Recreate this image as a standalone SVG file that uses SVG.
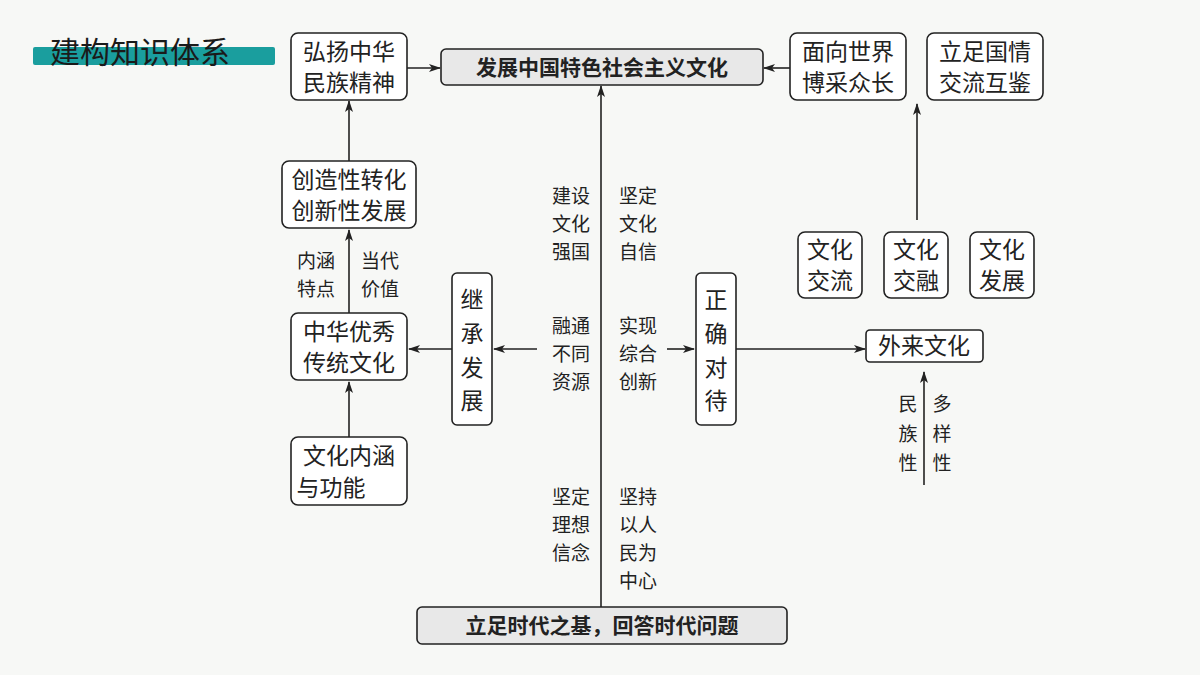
<svg xmlns="http://www.w3.org/2000/svg" width="1200" height="675" viewBox="0 0 1200 675">
<defs>
<marker id="ah" markerWidth="12" markerHeight="8" refX="11" refY="4" orient="auto" markerUnits="userSpaceOnUse"><path d="M0,0 L12,4 L0,8 L3,4 Z" fill="#222"/></marker>
<style>
text{font-family:"Noto Sans CJK SC","Noto Sans",sans-serif;fill:#222}
.b{fill:#fff;stroke:#222;stroke-width:1.6}
.g{fill:#e8e8e8;stroke:#222;stroke-width:1.6}
.t{font-size:23px;text-anchor:middle}
.l{font-size:19px;text-anchor:middle}
.bold{font-weight:bold;font-size:21px;text-anchor:middle}
.c line{stroke:#222;stroke-width:1.6}
</style>
</defs>
<rect width="1200" height="675" fill="#f7f8f6"/>
<g id="title"><rect x="33" y="47" width="242" height="18" rx="2" fill="#1a9e9e"/><text x="50" y="63" font-size="30" style="fill:#1a1a1a">建构知识体系</text></g>
<g class="c">
<line x1="407" y1="68" x2="440" y2="68" marker-end="url(#ah)"/>
<line x1="790" y1="68" x2="764" y2="68" marker-end="url(#ah)"/>
<line x1="917" y1="220" x2="917" y2="104" marker-end="url(#ah)"/>
<line x1="349" y1="161" x2="349" y2="101" marker-end="url(#ah)"/>
<line x1="349" y1="313" x2="349" y2="230" marker-end="url(#ah)"/>
<line x1="349" y1="437" x2="349" y2="382" marker-end="url(#ah)"/>
<line x1="452" y1="349" x2="409" y2="349" marker-end="url(#ah)"/>
<line x1="537" y1="349" x2="494" y2="349" marker-end="url(#ah)"/>
<line x1="601" y1="607" x2="601" y2="86" marker-end="url(#ah)"/>
<line x1="667" y1="349" x2="694" y2="349" marker-end="url(#ah)"/>
<line x1="736" y1="349" x2="865" y2="349" marker-end="url(#ah)"/>
<line x1="924" y1="485" x2="924" y2="372" marker-end="url(#ah)"/>
</g>
<g id="n1"><rect class="b" x="291" y="33" width="116" height="67" rx="7"/><text class="t" x="349" y="60">弘扬中华</text><text class="t" x="349" y="91">民族精神</text></g>
<g id="n2"><rect class="g" x="441" y="49" width="322" height="36" rx="5"/><text class="bold" x="602" y="75">发展中国特色社会主义文化</text></g>
<g id="n3"><rect class="b" x="790" y="33" width="116" height="67" rx="7"/><text class="t" x="848" y="60">面向世界</text><text class="t" x="848" y="91">博采众长</text></g>
<g id="n4"><rect class="b" x="927" y="33" width="116" height="67" rx="7"/><text class="t" x="985" y="60">立足国情</text><text class="t" x="985" y="91">交流互鉴</text></g>
<g id="n5"><rect class="b" x="798" y="232" width="64" height="66" rx="7"/><text class="t" x="830" y="258">文化</text><text class="t" x="830" y="289">交流</text></g>
<g id="n6"><rect class="b" x="884" y="232" width="64" height="66" rx="7"/><text class="t" x="916" y="258">文化</text><text class="t" x="916" y="289">交融</text></g>
<g id="n7"><rect class="b" x="970" y="232" width="64" height="66" rx="7"/><text class="t" x="1002" y="258">文化</text><text class="t" x="1002" y="289">发展</text></g>
<g id="n8"><rect class="b" x="282" y="161" width="134" height="67" rx="7"/><text class="t" x="349" y="188">创造性转化</text><text class="t" x="349" y="219">创新性发展</text></g>
<g id="n9"><rect class="b" x="291" y="313" width="116" height="67" rx="7"/><text class="t" x="349" y="340">中华优秀</text><text class="t" x="349" y="371">传统文化</text></g>
<g id="n10"><rect class="b" x="291" y="437" width="116" height="68" rx="7"/><text class="t" x="349" y="464">文化内涵</text><text class="t" x="331" y="496">与功能</text></g>
<g id="n11"><rect class="b" x="452" y="273" width="40" height="152" rx="5"/><text class="t" x="472" y="308">继</text><text class="t" x="472" y="342">承</text><text class="t" x="472" y="376">发</text><text class="t" x="472" y="409">展</text></g>
<g id="n12"><rect class="b" x="696" y="273" width="40" height="152" rx="5"/><text class="t" x="716" y="308">正</text><text class="t" x="716" y="342">确</text><text class="t" x="716" y="376">对</text><text class="t" x="716" y="409">待</text></g>
<g id="n13"><rect class="b" x="866" y="330" width="117" height="32" rx="4"/><text class="t" x="924" y="354">外来文化</text></g>
<g id="n14"><rect class="g" x="417" y="607" width="370" height="37" rx="5"/><text class="bold" x="602" y="633">立足时代之基，回答时代问题</text></g>
<g id="labels" class="l">
<text class="l" x="316" y="268">内涵</text><text class="l" x="316" y="296">特点</text>
<text class="l" x="380" y="268">当代</text><text class="l" x="380" y="296">价值</text>
<text class="l" x="571" y="203">建设</text><text class="l" x="571" y="231">文化</text><text class="l" x="571" y="259">强国</text>
<text class="l" x="638" y="203">坚定</text><text class="l" x="638" y="231">文化</text><text class="l" x="638" y="259">自信</text>
<text class="l" x="571" y="333">融通</text><text class="l" x="571" y="361">不同</text><text class="l" x="571" y="389">资源</text>
<text class="l" x="638" y="333">实现</text><text class="l" x="638" y="361">综合</text><text class="l" x="638" y="389">创新</text>
<text class="l" x="571" y="504">坚定</text><text class="l" x="571" y="532">理想</text><text class="l" x="571" y="560">信念</text>
<text class="l" x="638" y="504">坚持</text><text class="l" x="638" y="532">以人</text><text class="l" x="638" y="560">民为</text><text class="l" x="638" y="588">中心</text>
<text class="l" x="908" y="411">民</text><text class="l" x="908" y="441">族</text><text class="l" x="908" y="470">性</text>
<text class="l" x="942" y="411">多</text><text class="l" x="942" y="441">样</text><text class="l" x="942" y="470">性</text>
</g>
</svg>
